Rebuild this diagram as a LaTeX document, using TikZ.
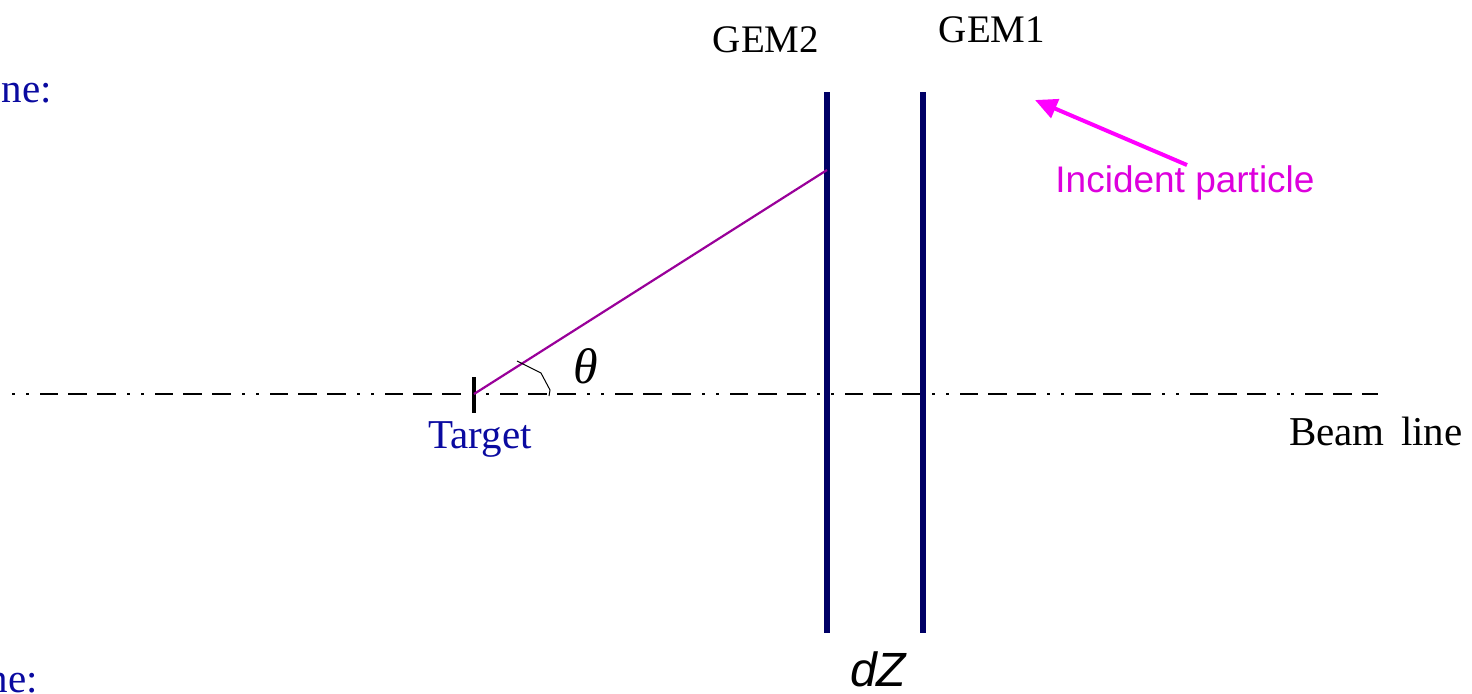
\documentclass[tikz,border=0pt]{standalone}
\usepackage{fontspec}
\setmainfont{Liberation Serif}
\newfontfamily\sansf{Liberation Sans}
\usetikzlibrary{arrows.meta}
\definecolor{lblblue}{HTML}{0A0AA0}
\definecolor{gemnavy}{HTML}{000066}
\definecolor{trackpurple}{HTML}{990099}
\definecolor{arrmag}{HTML}{FF00FF}
\definecolor{txtmag}{HTML}{DD00DD}
\begin{document}
\begin{tikzpicture}[x=0.5pt,y=-0.5pt,
  every node/.style={inner sep=0pt,outer sep=0pt},
  serif19/.style={font=\fontsize{19.5}{22}\selectfont},
  serif20/.style={font=\fontsize{20.5}{24}\selectfont},
  bluelbl/.style={serif20,text=lblblue},
  gemline/.style={draw=gemnavy,line width=3pt},
  beamstyle/.style={draw=black,line width=1.2pt,line cap=butt,
    dash pattern=on 1.5pt off 5.5pt on 1.5pt off 5.5pt on 9pt off 5pt on 9.5pt off 5pt on 9.5pt off 5.5pt},
  trackline/.style={draw=trackpurple,line width=1.1pt},
  incarrow/.style={draw=arrmag,line width=2pt,-{Triangle[length=11pt,width=10pt]}}
]
\useasboundingbox (0,0) rectangle (1472,693);
% coordinates
\coordinate (bl0) at (12,394);
\coordinate (bl1) at (1378,394);
\coordinate (tgt) at (474,394);
\coordinate (tgtT) at (474,377);
\coordinate (tgtB) at (474,413);
\coordinate (g2T) at (827,92);
\coordinate (g2B) at (827,633);
\coordinate (g1T) at (923,92);
\coordinate (g1B) at (923,633);
\coordinate (hit) at (827,170);
\coordinate (arrT) at (1187,165);
\coordinate (arrH) at (1035,100);
\coordinate (a1) at (517,361);
\coordinate (a2) at (541,373);
\coordinate (a3) at (550,390);
\coordinate (a4) at (549,396);
% beam line
\draw[beamstyle] (bl0) -- (bl1);
% target tick
\draw[line width=2pt] (tgtT) -- (tgtB);
% GEM planes
\draw[gemline] (g2T) -- (g2B);
\draw[gemline] (g1T) -- (g1B);
% track
\draw[trackline] (tgt) -- (hit);
% angle mark
\draw[line width=0.5pt] (a1) -- (a2) -- (a3) -- (a4);
% incident arrow
\draw[incarrow] (arrT) -- (arrH);
% labels
\node[bluelbl,anchor=base east] (topne) at (52,102) {ne:};
\node[bluelbl,anchor=base east] (botne) at (38,692) {ne:};
\node[serif19,anchor=base] (gem2) at (766,52) {GEM2};
\node[serif19,anchor=base] (gem1) at (992,42) {GEM1};
\node[bluelbl,anchor=base] (tgtlbl) at (480,448) {Target};
\node[serif20,anchor=base west] (beamlbl) at (1289,445) {Beam\hspace{0.4em}line};
\node[font=\fontsize{25}{28}\selectfont\itshape,anchor=center] (theta) at (586,366) {θ};
\node[font=\sansf\fontsize{24}{28}\selectfont\itshape,anchor=center] (dz) at (878,669) {dZ};
\node[font=\sansf\fontsize{18.5}{22}\selectfont,text=txtmag,anchor=base] (inclbl) at (1185,192) {Incident particle};
\end{tikzpicture}
\end{document}
